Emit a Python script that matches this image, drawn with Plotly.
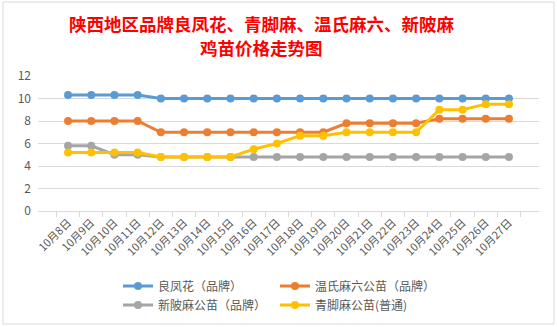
import plotly.graph_objects as go

W, H = 557, 327

dates = ["10月8日", "10月9日", "10月10日", "10月11日", "10月12日", "10月13日", "10月14日",
         "10月15日", "10月16日", "10月17日", "10月18日", "10月19日", "10月20日", "10月21日",
         "10月22日", "10月23日", "10月24日", "10月25日", "10月26日", "10月27日"]

liangfenghua = [10.3, 10.3, 10.3, 10.3, 10.0, 10.0, 10.0, 10.0, 10.0, 10.0,
                10.0, 10.0, 10.0, 10.0, 10.0, 10.0, 10.0, 10.0, 10.0, 10.0]
wenshi = [8.0, 8.0, 8.0, 8.0, 7.0, 7.0, 7.0, 7.0, 7.0, 7.0,
          7.0, 7.0, 7.8, 7.8, 7.8, 7.8, 8.2, 8.2, 8.2, 8.2]
xinbei = [5.8, 5.8, 5.0, 5.0, 4.8, 4.8, 4.8, 4.8, 4.8, 4.8,
          4.8, 4.8, 4.8, 4.8, 4.8, 4.8, 4.8, 4.8, 4.8, 4.8]
qingjiao = [5.2, 5.2, 5.2, 5.2, 4.8, 4.8, 4.8, 4.8, 5.5, 6.0,
            6.7, 6.7, 7.0, 7.0, 7.0, 7.0, 9.0, 9.0, 9.5, 9.5]

names = ["良凤花（品牌）", "温氏麻六公苗（品牌）", "新陂麻公苗（品牌）", "青脚麻公苗(普通)"]
colors = ["#5B9BD5", "#ED7D31", "#A5A5A5", "#FFC000"]
series = [liangfenghua, wenshi, xinbei, qingjiao]
legend_ids = ["legend", "legend", "legend2", "legend2"]

FONT = "Noto Sans CJK SC"
GRAY_TXT = "#595959"

fig = go.Figure()
for nm, col, ys, lg in zip(names, colors, series, legend_ids):
    fig.add_trace(go.Scatter(
        x=dates, y=ys, name=nm, mode="lines+markers",
        line=dict(color=col, width=3),
        marker=dict(color=col, size=8),
        legend=lg,
    ))

L, R, T, B = 38, 18, 76, 116

def cx(px):
    return px / W

def cy(py):
    return 1 - py / H

shapes = [dict(type="rect", xref="paper", yref="paper",
               x0=(3 - L) / (W - L - R), x1=(554 - L) / (W - L - R),
               y0=(H - B - 324) / (H - T - B), y1=(H - B - 2) / (H - T - B),
               line=dict(color="#D9D9D9", width=1), layer="below")]

fig.update_layout(
    width=W, height=H,
    margin=dict(l=L, r=R, t=T, b=B),
    paper_bgcolor="white", plot_bgcolor="white",
    font=dict(family=FONT, color=GRAY_TXT, size=12),
    shapes=shapes,
    annotations=[
        dict(text="<b>陕西地区品牌良凤花、青脚麻、温氏麻六、新陂麻</b>", xref="paper", yref="paper",
             x=(261 - L) / (W - L - R), y=(H - B - 23) / (H - T - B),
             xanchor="center", yanchor="middle", showarrow=False,
             font=dict(family=FONT, size=17.5, color="#FF0000")),
        dict(text="<b>鸡苗价格走势图</b>", xref="paper", yref="paper",
             x=(261 - L) / (W - L - R), y=(H - B - 47) / (H - T - B),
             xanchor="center", yanchor="middle", showarrow=False,
             font=dict(family=FONT, size=17.5, color="#FF0000")),
    ],
    xaxis=dict(
        type="category", showgrid=False, showline=True, linecolor="#D9D9D9", linewidth=1,
        ticks="outside", ticklen=5, tickcolor="#D9D9D9", tickson="boundaries",
        tickangle=-45, tickfont=dict(size=11, color=GRAY_TXT), zeroline=False,
    ),
    yaxis=dict(
        range=[0, 12], dtick=2, showgrid=True, gridcolor="#D9D9D9", gridwidth=1,
        showline=False, zeroline=False, tickfont=dict(size=12, color=GRAY_TXT),
        ticklabelstandoff=6,
    ),
    legend=dict(orientation="h", xref="container", yref="container",
                x=cx(118), y=cy(286), xanchor="left", yanchor="middle",
                entrywidth=112, itemwidth=30, font=dict(size=12, color=GRAY_TXT),
                bgcolor="rgba(0,0,0,0)"),
    legend2=dict(orientation="h", xref="container", yref="container",
                 x=cx(118), y=cy(305), xanchor="left", yanchor="middle",
                 entrywidth=112, itemwidth=30, font=dict(size=12, color=GRAY_TXT),
                 bgcolor="rgba(0,0,0,0)"),
)

fig.write_html("out.html")
